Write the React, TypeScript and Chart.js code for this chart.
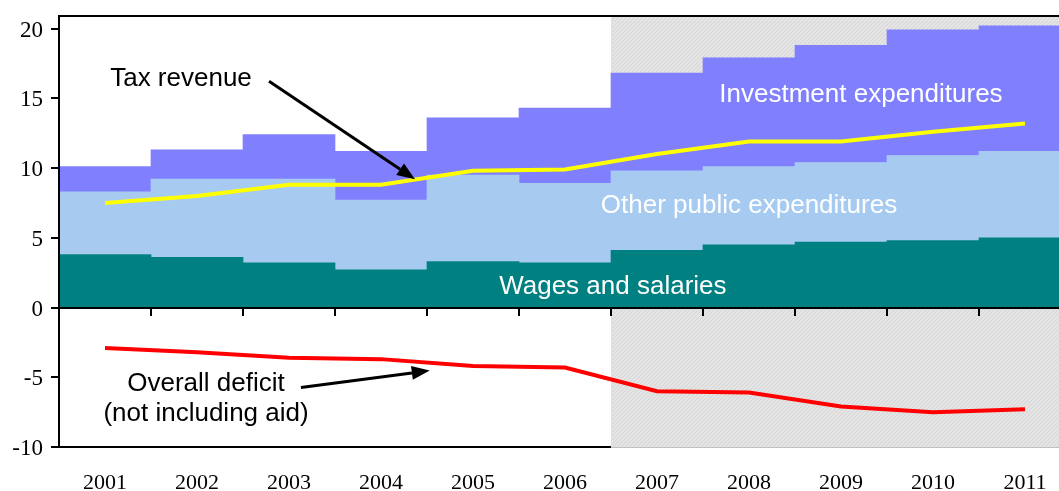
import React, { useEffect, useRef } from "react";
import { Chart, registerables } from "chart.js";

Chart.register(...registerables);

const years = ["2001", "2002", "2003", "2004", "2005", "2006", "2007", "2008", "2009", "2010", "2011"];
const wagesAndSalaries = [3.8, 3.6, 3.2, 2.7, 3.3, 3.2, 4.1, 4.5, 4.7, 4.8, 5.0];
const otherPublic = [4.5, 5.6, 6.0, 5.0, 6.2, 5.7, 5.7, 5.6, 5.7, 6.1, 6.2];
const investment = [1.8, 2.1, 3.2, 3.5, 4.1, 5.4, 7.0, 7.8, 8.4, 9.0, 9.0];
const taxRevenue = [7.5, 8.0, 8.8, 8.8, 9.8, 9.9, 11.0, 11.9, 11.9, 12.6, 13.2];
const overallDeficit = [-2.9, -3.2, -3.6, -3.7, -4.2, -4.3, -6.0, -6.1, -7.1, -7.5, -7.3];
const yTicks = [-10, -5, 0, 5, 10, 15, 20];
const projectionStartIndex = 6;

const Y_MIN = -10;
const Y_MAX = 20.9;

type Label = { text: string; x: number; y: number; color: string };
const labels: Label[] = [
  { text: "Tax revenue", x: 0.826, y: 15.87, color: "#000" },
  { text: "Overall deficit", x: 1.098, y: -5.96, color: "#000" },
  { text: "(not including aid)", x: 1.098, y: -8.11, color: "#000" },
  { text: "Investment expenditures", x: 8.217, y: 14.72, color: "#fff" },
  { text: "Other public expenditures", x: 7.0, y: 6.75, color: "#fff" },
  { text: "Wages and salaries", x: 5.52, y: 1.0, color: "#fff" },
];
const arrows = [
  { from: [1.783, 16.22], to: [3.37, 9.19] },
  { from: [2.13, -5.74], to: [3.53, -4.52] },
];

function makePattern(ctx: CanvasRenderingContext2D) {
  const c = document.createElement("canvas");
  c.width = 4;
  c.height = 4;
  const g = c.getContext("2d")!;
  g.fillStyle = "#e4e4e4";
  g.fillRect(0, 0, 4, 4);
  g.fillStyle = "#d5d5d5";
  for (let i = 0; i < 4; i++) g.fillRect(i, 3 - i, 1, 1);
  return ctx.createPattern(c, "repeat");
}

const decorPlugin = {
  id: "decor",
  beforeDatasetsDraw(chart: any) {
    const { ctx, chartArea, scales } = chart;
    const x = scales.x;
    const gx = x.getPixelForValue(projectionStartIndex - 0.5);
    ctx.save();
    ctx.fillStyle = makePattern(ctx) || "#e0e0e0";
    ctx.fillRect(gx, chartArea.top, chartArea.right - gx, chartArea.bottom - chartArea.top);
    ctx.restore();
  },
  afterDatasetsDraw(chart: any) {
    const { ctx, chartArea, scales } = chart;
    const x = scales.x;
    const y = scales.y;
    const gx = x.getPixelForValue(projectionStartIndex - 0.5);
    ctx.save();
    ctx.lineCap = "butt";
    // bottom border
    ctx.strokeStyle = "#c0c0c0";
    ctx.lineWidth = 1;
    ctx.beginPath();
    ctx.moveTo(gx, chartArea.bottom + 0.5);
    ctx.lineTo(chartArea.right, chartArea.bottom + 0.5);
    ctx.stroke();
    ctx.strokeStyle = "#000";
    ctx.lineWidth = 2;
    ctx.beginPath();
    ctx.moveTo(chartArea.left, chartArea.bottom);
    ctx.lineTo(gx, chartArea.bottom);
    ctx.stroke();
    // top border
    ctx.beginPath();
    ctx.moveTo(chartArea.left - 1, chartArea.top);
    ctx.lineTo(chartArea.right, chartArea.top);
    ctx.stroke();
    // left axis
    ctx.beginPath();
    ctx.moveTo(chartArea.left, chartArea.top);
    ctx.lineTo(chartArea.left, chartArea.bottom + 1);
    ctx.stroke();
    // y ticks
    for (const v of yTicks) {
      const py = Math.round(y.getPixelForValue(v));
      ctx.beginPath();
      ctx.moveTo(chartArea.left - 8, py);
      ctx.lineTo(chartArea.left, py);
      ctx.stroke();
    }
    // zero line
    const zy = Math.round(y.getPixelForValue(0));
    ctx.beginPath();
    ctx.moveTo(chartArea.left, zy);
    ctx.lineTo(chartArea.right, zy);
    ctx.stroke();
    for (let i = 1; i < years.length; i++) {
      const px = Math.round(x.getPixelForValue(i - 0.5));
      ctx.beginPath();
      ctx.moveTo(px, zy);
      ctx.lineTo(px, zy + 8);
      ctx.stroke();
    }
    // arrows
    ctx.lineWidth = 3;
    ctx.fillStyle = "#000";
    for (const a of arrows) {
      const x1 = x.getPixelForValue(a.from[0]);
      const y1 = y.getPixelForValue(a.from[1]);
      const x2 = x.getPixelForValue(a.to[0]);
      const y2 = y.getPixelForValue(a.to[1]);
      const ang = Math.atan2(y2 - y1, x2 - x1);
      const len = 18;
      const hw = 7;
      const bx = x2 - len * Math.cos(ang);
      const by = y2 - len * Math.sin(ang);
      ctx.beginPath();
      ctx.moveTo(x1, y1);
      ctx.lineTo(bx, by);
      ctx.stroke();
      ctx.beginPath();
      ctx.moveTo(x2, y2);
      ctx.lineTo(bx + hw * Math.sin(ang), by - hw * Math.cos(ang));
      ctx.lineTo(bx - hw * Math.sin(ang), by + hw * Math.cos(ang));
      ctx.closePath();
      ctx.fill();
    }
    // labels
    ctx.font = '26px "Liberation Sans", Arial, sans-serif';
    ctx.textAlign = "center";
    ctx.textBaseline = "alphabetic";
    for (const l of labels) {
      ctx.fillStyle = l.color;
      ctx.fillText(l.text, x.getPixelForValue(l.x), y.getPixelForValue(l.y));
    }
    ctx.restore();
  },
};

export default function App() {
  const ref = useRef<HTMLCanvasElement | null>(null);
  useEffect(() => {
    if (!ref.current) return;
    const serif = { family: '"Liberation Serif", "Times New Roman", serif', size: 22 };
    const chart = new Chart(ref.current, {
      type: "bar",
      data: {
        labels: years,
        datasets: [
          {
            type: "line",
            label: "Tax revenue",
            data: taxRevenue,
            borderColor: "#ffff00",
            borderWidth: 4,
            pointRadius: 0,
            tension: 0,
            yAxisID: "y2",
            order: 0,
          },
          {
            type: "line",
            label: "Overall deficit",
            data: overallDeficit,
            borderColor: "#ff0000",
            borderWidth: 4,
            pointRadius: 0,
            tension: 0,
            yAxisID: "y2",
            order: 0,
          },
          {
            label: "Wages and salaries",
            data: wagesAndSalaries,
            backgroundColor: "#008080",
            borderWidth: 0,
            categoryPercentage: 1,
            barPercentage: 1,
            order: 1,
          },
          {
            label: "Other public expenditures",
            data: otherPublic,
            backgroundColor: "#a6caf0",
            borderWidth: 0,
            categoryPercentage: 1,
            barPercentage: 1,
            order: 1,
          },
          {
            label: "Investment expenditures",
            data: investment,
            backgroundColor: "#8080ff",
            borderWidth: 0,
            categoryPercentage: 1,
            barPercentage: 1,
            order: 1,
          },
        ],
      } as any,
      options: {
        animation: false,
        responsive: false,
        layout: { padding: { top: 16, right: 9, left: 0, bottom: 0 } },
        plugins: { legend: { display: false }, tooltip: { enabled: false } },
        scales: {
          x: {
            stacked: true,
            grid: { display: false, drawTicks: false },
            border: { display: false },
            ticks: { font: serif, color: "#000", padding: 23, maxRotation: 0, autoSkip: false },
            afterFit: (s: any) => {
              s.height = 44;
              s.paddingLeft = 0;
              s.paddingRight = 0;
            },
          },
          y: {
            stacked: true,
            min: Y_MIN,
            max: Y_MAX,
            grid: { display: false, drawTicks: false },
            border: { display: false },
            ticks: {
              font: { family: '"Liberation Serif", "Times New Roman", serif', size: 23 },
              color: "#000",
              padding: 16,
              labelOffset: 2,
              callback: (v: any) => String(v),
            },
            afterBuildTicks: (s: any) => {
              s.ticks = yTicks.map((v) => ({ value: v }));
            },
            afterFit: (s: any) => {
              s.width = 59;
              s.paddingTop = 0;
              s.paddingBottom = 0;
            },
          },
          y2: {
            display: false,
            min: Y_MIN,
            max: Y_MAX,
          },
        },
      } as any,
      plugins: [decorPlugin],
    });
    return () => chart.destroy();
  }, []);
  return (
    <div style={{ position: "fixed", left: 0, top: 0, width: 1059, height: 491, overflow: "hidden", background: "#fff" }}>
      <canvas ref={ref} width={1080} height={491} style={{ width: 1080, height: 491, display: "block" }} />
    </div>
  );
}
